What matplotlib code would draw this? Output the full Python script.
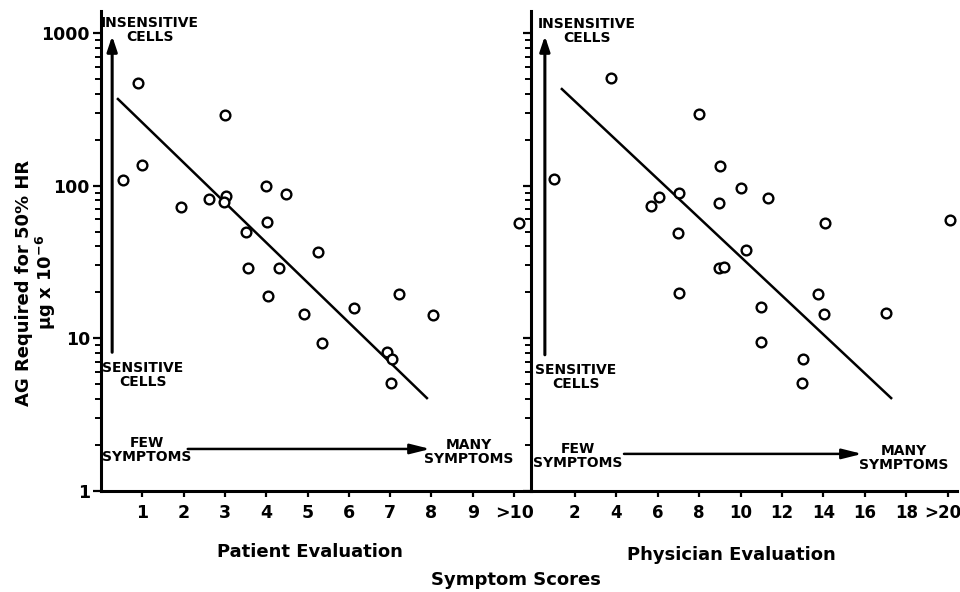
import matplotlib
matplotlib.use("Agg")
import matplotlib.pyplot as plt
from matplotlib.ticker import FixedLocator, NullFormatter, LogLocator
from matplotlib.transforms import ScaledTranslation

plt.rcParams['font.family'] = ['DejaVu Sans']

# ---------------- data ----------------
patient_x = [0.90, 3.00, 0.53, 0.99, 1.94, 2.61, 3.03, 2.98, 4.00, 4.48, 4.02, 3.51,
             5.25, 3.56, 4.31, 4.04, 7.22, 4.92, 6.13, 8.04, 5.35, 6.92, 7.05, 7.02, 10.12]
patient_y = [470, 290, 109, 136, 72, 82, 86, 78, 99, 88, 58, 50,
             37, 29, 29, 19, 19.5, 14.4, 15.8, 14.2, 9.3, 8.1, 7.3, 5.1, 57]
patient_fit_x = [0.41, 7.89]
patient_fit_y = [369, 4.06]

physician_x = [3.74, 7.99, 0.99, 9.00, 10.02, 11.3, 7.03, 6.06, 5.68, 8.96, 14.1, 20.1,
               6.98, 10.26, 8.96, 9.20, 7.03, 13.74, 11.0, 14.03, 17.03, 11.0, 13.0, 12.96]
physician_y = [507, 294, 110, 134, 96, 83, 89.5, 84, 73.5, 77, 57, 59.5,
               49, 37.9, 28.9, 29.3, 19.8, 19.5, 16.0, 14.4, 14.6, 9.5, 7.3, 5.1]
physician_fit_x = [1.37, 17.27]
physician_fit_y = [429, 4.06]

patient_ticks = [1, 2, 3, 4, 5, 6, 7, 8, 9, 10]
patient_ticklabels = ["1", "2", "3", "4", "5", "6", "7", "8", "9", ">10"]
physician_ticks = [2, 4, 6, 8, 10, 12, 14, 16, 18, 20]
physician_ticklabels = ["2", "4", "6", "8", "10", "12", "14", "16", "18", ">20"]
y_ticks = [1, 10, 100, 1000]
y_ticklabels = ["1", "10", "100", "1000"]

# ---------------- figure ----------------
W, H = 960, 592
fig = plt.figure(figsize=(W / 100, H / 100), dpi=100)

def px_rect(x0, y_top, x1, y_bot):
    return [x0 / W, 1 - y_bot / H, (x1 - x0) / W, (y_bot - y_top) / H]

def ftext(x, y, s, **kw):
    fig.text(x / W, 1 - y / H, s, **kw)

YLIM = (1, 1400)
ax1 = fig.add_axes(px_rect(101, 10.6, 531, 491))
ax2 = fig.add_axes(px_rect(531, 10.6, 957, 491))

for ax in (ax1, ax2):
    ax.set_yscale('log')
    ax.set_ylim(*YLIM)
    for s in ('top', 'right'):
        ax.spines[s].set_visible(False)
    for s in ('left', 'bottom'):
        ax.spines[s].set_linewidth(2.2)
    ax.yaxis.set_major_locator(FixedLocator(y_ticks))
    ax.yaxis.set_minor_locator(LogLocator(base=10, subs=range(2, 10)))
    ax.yaxis.set_minor_formatter(NullFormatter())
    ax.tick_params(axis='y', which='major', direction='out', length=6, width=1.6)
    ax.tick_params(axis='y', which='minor', direction='out', length=4, width=1.4)
    ax.tick_params(axis='x', which='major', direction='out', length=4, width=1.6, pad=5)
    ax.patch.set_alpha(0)

ax1.set_xlim(0, 10.41)
ax1.set_xticks(patient_ticks)
ax1.set_xticklabels(patient_ticklabels, fontsize=12.5, fontweight='bold')
ax1.set_yticklabels(y_ticklabels, fontsize=12.5, fontweight='bold')
ax1.tick_params(axis='y', pad=2)

ax2.set_xlim(-0.12, 20.45)
ax2.set_xticks(physician_ticks)
ax2.set_xticklabels(physician_ticklabels, fontsize=12, fontweight='bold')
ax2.set_yticklabels([])
last = ax2.get_xticklabels()[-1]
last.set_transform(last.get_transform() + ScaledTranslation(-0.05, 0, fig.dpi_scale_trans))

mk = dict(linestyle='none', marker='o', markersize=7, markerfacecolor='white',
          markeredgecolor='black', markeredgewidth=1.7, clip_on=False, zorder=5)
ax1.plot(patient_x, patient_y, **mk)
ax2.plot(physician_x, physician_y, **mk)
ax1.plot(patient_fit_x, patient_fit_y, color='black', lw=1.8, zorder=4)
ax2.plot(physician_fit_x, physician_fit_y, color='black', lw=1.8, zorder=4)

arrow_v = dict(arrowstyle='-|>,head_length=0.9,head_width=0.3', color='black', lw=2.2,
               shrinkA=0, shrinkB=0)
arrow_h = dict(arrowstyle='-|>,head_length=1.2,head_width=0.3', color='black', lw=1.8,
               shrinkA=0, shrinkB=0)
# vertical arrows (sensitivity)
ax1.annotate('', xy=(0.27, 955), xytext=(0.27, 8.1), arrowprops=arrow_v)
ax2.annotate('', xy=(0.55, 955), xytext=(0.55, 7.8), arrowprops=arrow_v)
# horizontal arrows (symptoms)
ax1.annotate('', xy=(7.97, 1.885), xytext=(2.1, 1.885), arrowprops=arrow_h)
ax2.annotate('', xy=(15.87, 1.75), xytext=(4.37, 1.75), arrowprops=arrow_h)

lab = dict(fontsize=10, fontweight='bold', ha='center', va='center', linespacing=0.95)
ftext(150, 30, "INSENSITIVE\nCELLS", **lab)
ftext(143, 375, "SENSITIVE\nCELLS", **lab)
ftext(147, 450, "FEW\nSYMPTOMS", **lab)
ftext(469, 452, "MANY\nSYMPTOMS", **lab)
ftext(587, 31, "INSENSITIVE\nCELLS", **lab)
ftext(576, 377, "SENSITIVE\nCELLS", **lab)
ftext(578, 456, "FEW\nSYMPTOMS", **lab)
ftext(904, 458, "MANY\nSYMPTOMS", **lab)

ttl = dict(fontsize=13, fontweight='bold', ha='center', va='center')
ftext(310, 552, "Patient Evaluation", **ttl)
ftext(731, 555, "Physician Evaluation", **ttl)
ftext(516, 580, "Symptom Scores", **ttl)
ftext(24, 283, "AG Required for 50% HR", rotation=90, **ttl)
ftext(46, 282, r"$\mathbf{\mu g\ x\ 10^{-6}}$", rotation=90, **ttl)

fig.savefig("out.png", dpi=100)
